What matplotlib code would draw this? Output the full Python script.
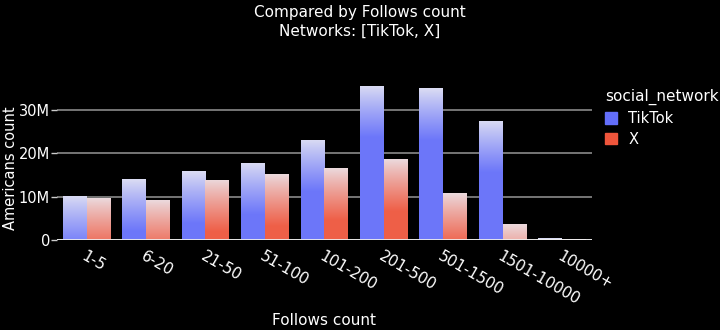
import matplotlib.pyplot as plt
import matplotlib.colors as mcolors
import numpy as np

plt.close('all')

categories = ['1-5', '6-20', '21-50', '51-100', '101-200', '201-500',
              '501-1500', '1501-10000', '10000+']
tiktok = [10.2, 14.0, 15.8, 17.8, 23.1, 35.6, 35.0, 27.5, 0.4]  # millions
x_net = [9.6, 9.1, 13.9, 15.2, 16.5, 18.6, 10.8, 3.6, 0.2]  # millions
networks = ['TikTok', 'X']
colors = ['#636efa', '#ef553b']

plt.rcParams['font.family'] = ['DejaVu Sans']

fig = plt.figure(figsize=(7.2, 3.3), dpi=100, facecolor='black')
ax = fig.add_axes([0.079, 0.273, 0.743, 0.491], facecolor='black')

pos = np.arange(len(categories))
w = 0.4
ymax = 37.4e6


def gradient_bars(bars, color):
    base = np.array(mcolors.to_rgb(color))
    top_col = np.array([0.92, 0.92, 0.95])
    for b in bars:
        h = b.get_height()
        if h <= 0:
            continue
        n = 200
        yy = np.linspace(h, 0, n)  # top -> bottom
        depth = (h - yy) / 13e6
        t = np.clip(0.08 + depth, 0, 1) ** 0.85
        t = t * 0.93
        rgb = top_col[None, :] * (1 - t[:, None]) + base[None, :] * t[:, None]
        img = np.repeat(rgb[:, None, :], 2, axis=1)
        x0 = b.get_x()
        im = ax.imshow(img, extent=[x0, x0 + b.get_width(), 0, h],
                       aspect='auto', zorder=3, interpolation='bilinear')
        im.set_clip_path(b)
        b.set_facecolor('none')


series = [tiktok, x_net]
handles = []
for i, (vals, col, name) in enumerate(zip(series, colors, networks)):
    vals_abs = np.array(vals) * 1e6
    bars = ax.bar(pos - w / 2 + i * w, vals_abs, width=w, color=col,
                  edgecolor='none', linewidth=0, zorder=2, label=name)
    gradient_bars(bars, col)
    handles.append(plt.Rectangle((0, 0), 1, 1, color=col))

ax.set_xlim(-0.5, len(categories) - 0.5)
ax.set_ylim(0, ymax)
ax.set_yticks([0, 10e6, 20e6, 30e6])
ax.set_yticklabels(['0', '10M', '20M', '30M'])
ax.yaxis.grid(True, color='#8a8a8a', linewidth=1.2, zorder=1)
ax.set_axisbelow(True)
ax.axhline(0, color='#eeeeee', linewidth=2, zorder=4)
for s in ax.spines.values():
    s.set_visible(False)
ax.tick_params(axis='y', colors='#cccccc', labelcolor='white', labelsize=10.5,
               length=4, width=1, pad=1)
ax.tick_params(axis='x', length=0, labelcolor='white', labelsize=11, pad=6)
ax.set_xticks(pos)
ax.set_xticklabels(categories, rotation=-30, ha='left', va='top',
                   rotation_mode='anchor')
ax.set_xlabel('Follows count', color='white', fontsize=11, labelpad=4)

fig.text(0.0145, 0.49, 'Americans count', color='white', fontsize=10.5,
         rotation=90, ha='center', va='center')
fig.text(0.5, 0.962, 'Compared by Follows count', color='white',
         fontsize=11, ha='center', va='center')
fig.text(0.5, 0.905, 'Networks: [TikTok, X]', color='white',
         fontsize=11, ha='center', va='center')

leg = fig.legend(handles, networks, title='social_network',
                 loc='upper left', bbox_to_anchor=(0.822, 0.77),
                 frameon=False, fontsize=10.5, title_fontsize=11,
                 handlelength=0.8, handleheight=0.8, handletextpad=0.8,
                 labelspacing=0.4)
for t in leg.get_texts():
    t.set_color('white')
leg.get_title().set_color('white')
leg._legend_box.align = 'left'

fig.savefig('out.png', dpi=100, facecolor='black')
